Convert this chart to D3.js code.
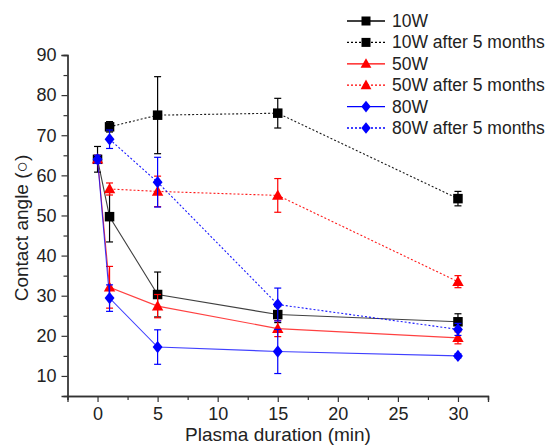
<!DOCTYPE html>
<html>
<head>
<meta charset="utf-8">
<script src="https://cdn.jsdelivr.net/npm/d3@7/dist/d3.min.js"></script>
<style>
  html, body { margin: 0; padding: 0; background: #fff; }
  svg { display: block; }
  text { font-family: "Liberation Sans", Arial, sans-serif; fill: #222; }
</style>
</head>
<body>
<svg id="chart" width="548" height="447"></svg>
<script>
// ---- data ----
const xFull = [0, 1, 5, 15, 30];
const xAfter = [1, 5, 15, 30];

const w10 = [64, 49.7, 30.3, 25.3, 23.5];
const w10Err = [3.2, 6.3, 5.6, 2.0, 2.0];
const w10After = [72.1, 75, 75.5, 54.2];
const w10AfterErr = [1.3, 9.6, 3.7, 1.8];

const w50 = [64, 32.1, 27.4, 21.8, 19.5];
const w50Err = [1, 5.2, 2.9, 2.0, 1.5];
const w50After = [56.6, 56, 55, 33.5];
const w50AfterErr = [1.5, 3.8, 4.2, 1.5];

const w80 = [64, 29.4, 17.2, 16.1, 15];
const w80Err = [1, 3.3, 4.3, 5.5, 0.5];
const w80After = [69, 58.3, 27.8, 21.6];
const w80AfterErr = [2.3, 6.2, 4.1, 1.5];

const seriesNames = ["10W", "10W after 5 months", "50W", "50W after 5 months", "80W", "80W after 5 months"];
const xTicks = [0, 5, 10, 15, 20, 25, 30];
const yTicks = [10, 20, 30, 40, 50, 60, 70, 80, 90];

const series = [
  {name: seriesNames[0], xs: xFull, ys: w10, err: w10Err, color: "#000000", dash: null, shape: "square"},
  {name: seriesNames[1], xs: xAfter, ys: w10After, err: w10AfterErr, color: "#000000", dash: "2,2", shape: "square"},
  {name: seriesNames[2], xs: xFull, ys: w50, err: w50Err, color: "#ff0000", dash: null, shape: "triangle"},
  {name: seriesNames[3], xs: xAfter, ys: w50After, err: w50AfterErr, color: "#ff0000", dash: "2,2", shape: "triangle"},
  {name: seriesNames[4], xs: xFull, ys: w80, err: w80Err, color: "#0000ff", dash: null, shape: "diamond"},
  {name: seriesNames[5], xs: xAfter, ys: w80After, err: w80AfterErr, color: "#0000ff", dash: "2,2", shape: "diamond"}
];

// ---- layout ----
const svg = d3.select("#chart");
svg.append("rect").attr("width", 548).attr("height", 447).attr("fill", "#fff");

const x = d3.scaleLinear().domain([-2.5, 32.5]).range([67.5, 488]);
const y = d3.scaleLinear().domain([5, 90]).range([396, 55]);

// axes
const xAxis = d3.axisBottom(x).tickValues(xTicks).tickSize(6).tickPadding(5).tickFormat(d3.format("d"));
const xMinor = d3.axisBottom(x).tickValues(d3.range(-2.5, 33, 5)).tickSize(4).tickFormat("");
const yAxis = d3.axisLeft(y).tickValues(yTicks).tickSize(6).tickPadding(5).tickFormat(d3.format("d"));
const yMinor = d3.axisLeft(y).tickValues(d3.range(15, 90, 10)).tickSize(4).tickFormat("");

function styleAxis(g) {
  g.selectAll(".domain").attr("stroke", "#333").attr("stroke-width", 1.3);
  g.selectAll(".tick line").attr("stroke", "#333").attr("stroke-width", 1.2);
  g.selectAll(".tick text").attr("font-size", 18).attr("fill", "#222")
    .attr("font-family", "'Liberation Sans', Arial, sans-serif");
}

svg.append("g").attr("transform", `translate(0,${y(5)})`).call(xMinor).call(styleAxis);
svg.append("g").attr("transform", `translate(0,${y(5)})`).call(xAxis).call(styleAxis);
svg.append("g").attr("transform", `translate(${x(-2.5)},0)`).call(yMinor).call(styleAxis);
svg.append("g").attr("transform", `translate(${x(-2.5)},0)`).call(yAxis).call(styleAxis);

// axis titles
svg.append("text").attr("x", 278).attr("y", 441).attr("text-anchor", "middle")
  .attr("font-size", 19).text("Plasma duration (min)");
svg.append("text").attr("transform", `translate(28,228) rotate(-90)`).attr("text-anchor", "middle")
  .attr("font-size", 19).text("Contact angle (○)");

// marker drawing
function marker(g, shape, cx, cy, color, s) {
  if (shape === "square") {
    g.append("rect").attr("x", cx - s/2).attr("y", cy - s/2).attr("width", s).attr("height", s).attr("fill", color);
  } else if (shape === "triangle") {
    const h = s * 1.0;
    g.append("path").attr("d", `M${cx},${cy - h*0.62}L${cx + s*0.6},${cy + h*0.45}L${cx - s*0.6},${cy + h*0.45}Z`).attr("fill", color);
  } else {
    const r = s * 0.65;
    g.append("path").attr("d", `M${cx},${cy - r}L${cx + r*0.8},${cy}L${cx},${cy + r}L${cx - r*0.8},${cy}Z`).attr("fill", color);
  }
}

const line = d3.line().x(d => x(d[0])).y(d => y(d[1]));

series.forEach(s => {
  const pts = s.xs.map((xv, i) => [xv, s.ys[i], s.err[i]]);
  const g = svg.append("g");
  g.append("path").datum(pts).attr("d", line).attr("fill", "none")
    .attr("stroke", s.color).attr("stroke-width", 1.1).attr("stroke-opacity", s.dash ? 0.9 : 0.75)
    .attr("stroke-dasharray", s.dash);
  // error bars
  pts.forEach(p => {
    const cx = x(p[0]), y1 = y(p[1] + p[2]), y2 = y(p[1] - p[2]);
    g.append("line").attr("x1", cx).attr("x2", cx).attr("y1", y1).attr("y2", y2).attr("stroke", s.color).attr("stroke-width", 1.2);
    [y1, y2].forEach(yy => g.append("line").attr("x1", cx - 3.5).attr("x2", cx + 3.5).attr("y1", yy).attr("y2", yy)
      .attr("stroke", s.color).attr("stroke-width", 1.2));
  });
  pts.forEach(p => marker(g, s.shape, x(p[0]), y(p[1]), s.color, 9.5));
});

// legend
const legendY0 = 21, legendDy = 21.4;
series.forEach((s, i) => {
  const yy = legendY0 + i * legendDy;
  const g = svg.append("g");
  g.append("line").attr("x1", 347).attr("x2", 385).attr("y1", yy).attr("y2", yy)
    .attr("stroke", s.color).attr("stroke-width", 1.3).attr("stroke-dasharray", s.dash);
  marker(g, s.shape, 366, yy, s.color, 9);
  g.append("text").attr("x", 392).attr("y", yy + 6).attr("font-size", 17.5).text(s.name);
});
</script>
</body>
</html>
